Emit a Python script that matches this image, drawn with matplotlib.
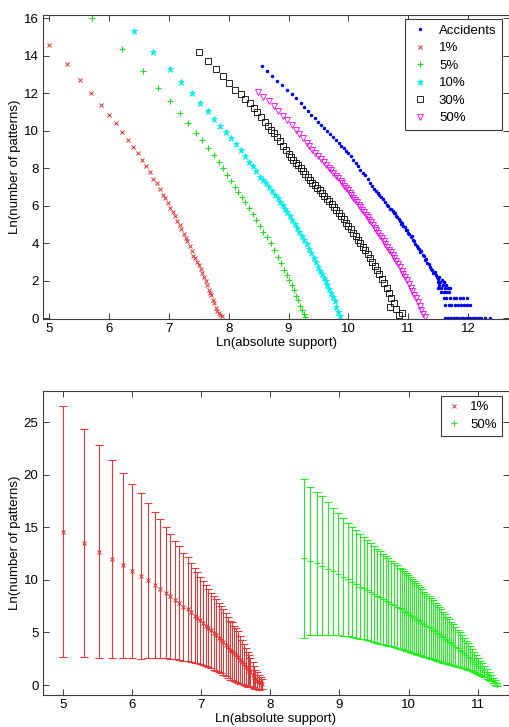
import matplotlib.pyplot as plt

plt.rcParams["font.family"] = ["Liberation Sans", "DejaVu Sans"]
plt.rcParams["font.size"] = 9.5

# ---- top panel: ln(number of patterns) vs ln(absolute support) ----
acc_x = [8.55, 8.64, 8.72, 8.80, 8.89, 8.97, 9.05, 9.13, 9.2, 9.26, 9.32, 9.38, 9.44, 9.5,
         9.55, 9.6, 9.65, 9.7, 9.75, 9.8, 9.84, 9.88, 9.92, 9.96, 10.0, 10.04, 10.08, 10.12,
         10.16, 10.2, 10.24, 10.28, 10.32, 10.36, 10.4, 10.43, 10.46, 10.49, 10.52, 10.55,
         10.58, 10.61, 10.64, 10.67, 10.7, 10.72, 10.74, 10.76, 10.78, 10.8, 10.82, 10.84,
         10.86, 10.88, 10.9, 10.92, 10.94, 10.96, 10.98, 11.0, 11.02, 11.04, 11.06, 11.08,
         11.1, 11.12, 11.14, 11.16, 11.18, 11.2, 11.22, 11.24, 11.26, 11.28, 11.3, 11.32,
         11.34, 11.36, 11.38, 11.4, 11.42, 11.44, 11.46, 11.48, 11.5, 11.52, 11.54, 11.56,
         11.58, 11.6,
         11.5, 11.6, 11.52, 11.58, 11.63, 11.5, 11.55, 11.62, 11.66, 11.7, 11.55, 11.6, 11.64,
         11.68, 11.6, 11.64, 11.7, 11.76, 11.8, 11.86, 11.92, 11.98, 11.62, 11.68, 11.72,
         11.78, 11.84, 11.88, 11.93, 11.98, 12.04, 11.62, 11.67, 11.72, 11.76, 11.8, 11.84,
         11.88, 11.92, 11.96, 12.0, 12.04, 12.08, 12.12, 12.17, 12.22, 12.28, 12.37]
acc_y = [13.47, 13.19, 12.92, 12.67, 12.43, 12.2, 11.98, 11.74, 11.5, 11.28, 11.06, 10.86,
         10.66, 10.46, 10.3, 10.14, 9.99, 9.84, 9.67, 9.5, 9.35, 9.21, 9.07, 8.93, 8.79,
         8.63, 8.45, 8.28, 8.1, 7.92, 7.77, 7.62, 7.45, 7.22, 7.03, 6.92, 6.8, 6.7, 6.6,
         6.48, 6.37, 6.2, 6.05, 5.98, 5.82, 5.85, 5.7, 5.62, 5.6, 5.45, 5.42, 5.28, 5.2,
         5.05, 5.1, 4.92, 4.85, 4.7, 4.72, 4.55, 4.5, 4.35, 4.4, 4.2, 4.12, 3.95, 3.88,
         3.75, 3.68, 3.52, 3.6, 3.35, 3.3, 3.1, 3.18, 2.95, 2.9, 2.75, 2.64, 2.6, 2.4, 2.48,
         2.3, 2.2, 2.08, 2.2, 1.95, 2.04, 1.79, 1.95,
         1.95, 1.95, 1.79, 1.79, 1.79, 1.61, 1.61, 1.61, 1.61, 1.61, 1.39, 1.39, 1.39,
         1.39, 1.1, 1.1, 1.1, 1.1, 1.1, 1.1, 1.1, 1.1, 0.69, 0.69, 0.69,
         0.69, 0.69, 0.69, 0.69, 0.69, 0.69, 0, 0, 0, 0, 0, 0,
         0, 0, 0, 0, 0, 0, 0, 0, 0, 0, 0]

p1_x = [5.0, 5.3, 5.52, 5.7, 5.86, 6.0, 6.12, 6.22, 6.32, 6.4, 6.48, 6.55, 6.62, 6.68,
        6.74, 6.8, 6.85, 6.9, 6.94, 6.98, 7.02, 7.07, 7.1, 7.14, 7.18, 7.21, 7.25, 7.28,
        7.31, 7.35, 7.38, 7.41, 7.44, 7.47, 7.5, 7.53, 7.56, 7.59, 7.62, 7.64, 7.67, 7.69,
        7.71, 7.74, 7.76, 7.78, 7.8, 7.83, 7.86, 7.88]
p1_y = [14.6, 13.55, 12.7, 12.0, 11.4, 10.85, 10.4, 9.95, 9.5, 9.15, 8.8, 8.45, 8.1, 7.8,
        7.45, 7.2, 6.9, 6.6, 6.4, 6.15, 5.9, 5.65, 5.45, 5.2, 4.95, 4.75, 4.5, 4.3, 4.1,
        3.85, 3.6, 3.3, 3.2, 3.0, 2.85, 2.65, 2.4, 2.2, 2.0, 1.75, 1.5, 1.35, 1.25, 1.0,
        0.8, 0.55, 0.4, 0.27, 0.2, 0.1]
p1_err = [11.9, 10.85, 10.1, 9.4, 8.8, 8.3, 7.9, 7.4, 6.95, 6.6, 6.25, 5.95, 5.6, 5.4,
          5.15, 4.95, 4.75, 4.55, 4.35, 4.15, 4.0, 3.85, 3.7, 3.6, 3.5, 3.4, 3.3, 3.2,
          3.1, 3.0, 2.9, 2.8, 2.75, 2.65, 2.55, 2.45, 2.3, 2.1, 1.95, 1.8, 1.65, 1.5,
          1.35, 1.2, 1.05, 0.9, 0.8, 0.7, 0.6, 0.5]

p5_x = [5.71, 6.22, 6.56, 6.82, 7.02, 7.19, 7.32, 7.45, 7.55, 7.65, 7.75, 7.83, 7.9, 7.97,
        8.04, 8.1, 8.16, 8.22, 8.28, 8.34, 8.4, 8.46, 8.52, 8.58, 8.64, 8.7, 8.76, 8.82,
        8.87, 8.92, 8.97, 9.01, 9.05, 9.09, 9.13, 9.16, 9.19, 9.22, 9.25, 9.28]
p5_y = [16.0, 14.35, 13.2, 12.3, 11.6, 10.95, 10.4, 9.9, 9.5, 9.1, 8.7, 8.35, 8.0, 7.62,
        7.3, 7.02, 6.75, 6.49, 6.2, 5.9, 5.55, 5.23, 4.92, 4.62, 4.35, 4.0, 3.62, 3.25,
        2.93, 2.6, 2.3, 2.02, 1.78, 1.5, 1.2, 0.95, 0.65, 0.45, 0.25, 0.09]

p10_x = [6.41, 6.74, 7.02, 7.21, 7.38, 7.52, 7.65, 7.76, 7.86, 7.96, 8.04, 8.12, 8.2, 8.27,
         8.34, 8.4, 8.46, 8.52, 8.57, 8.62, 8.67, 8.72, 8.77, 8.82, 8.86, 8.9, 8.94, 8.98,
         9.02, 9.06, 9.1, 9.14, 9.18, 9.22, 9.26, 9.3, 9.34, 9.38, 9.42, 9.46, 9.5, 9.53,
         9.56, 9.59, 9.62, 9.65, 9.68, 9.71, 9.74, 9.77, 9.8, 9.83, 9.86]
p10_y = [15.3, 14.2, 13.3, 12.6, 12.0, 11.5, 11.05, 10.65, 10.28, 9.92, 9.6, 9.28, 8.96,
         8.66, 8.36, 8.1, 7.83, 7.55, 7.38, 7.2, 7.0, 6.8, 6.6, 6.4, 6.22, 6.03, 5.85,
         5.65, 5.45, 5.25, 5.03, 4.82, 4.6, 4.38, 4.15, 3.95, 3.72, 3.47, 3.23, 2.98,
         2.72, 2.53, 2.35, 2.15, 1.97, 1.76, 1.56, 1.35, 1.13, 0.9, 0.62, 0.35, 0.1]

p30_x = [7.5, 7.66, 7.78, 7.9, 8.01, 8.11, 8.2, 8.28, 8.35, 8.42, 8.48, 8.54, 8.6, 8.65,
         8.7, 8.75, 8.8, 8.85, 8.9, 8.95, 9.0, 9.04, 9.08, 9.12, 9.16, 9.2, 9.24, 9.28,
         9.32, 9.36, 9.4, 9.44, 9.48, 9.52, 9.56, 9.6, 9.64, 9.68, 9.72, 9.76, 9.8, 9.84,
         9.88, 9.92, 9.96, 10.0, 10.04, 10.08, 10.12, 10.16, 10.2, 10.24, 10.28, 10.32,
         10.36, 10.4, 10.44, 10.48, 10.52, 10.56, 10.6, 10.64, 10.68, 10.7, 10.72, 10.76,
         10.8, 10.84, 10.89]
p30_y = [14.2, 13.7, 13.3, 12.9, 12.55, 12.2, 11.95, 11.7, 11.47, 11.24, 11.0, 10.72,
         10.45, 10.25, 10.06, 9.87, 9.65, 9.43, 9.2, 8.98, 8.77, 8.6, 8.44, 8.3, 8.15,
         8.0, 7.86, 7.71, 7.56, 7.4, 7.24, 7.1, 6.96, 6.82, 6.68, 6.53, 6.38, 6.23, 6.08,
         5.92, 5.76, 5.6, 5.44, 5.27, 5.1, 4.93, 4.75, 4.57, 4.39, 4.2, 4.01, 3.82, 3.62,
         3.42, 3.22, 3.01, 2.8, 2.58, 2.35, 2.12, 1.88, 1.63, 1.37, 0.62, 1.1, 0.82,
         0.52, 0.18, 0.27]

p50_x = [8.49, 8.58, 8.67, 8.75, 8.83, 8.91, 8.98, 9.05, 9.12, 9.18, 9.24, 9.3, 9.35, 9.4,
         9.45, 9.5, 9.55, 9.59, 9.63, 9.67, 9.71, 9.75, 9.79, 9.83, 9.87, 9.9, 9.93, 9.96,
         9.99, 10.02, 10.05, 10.08, 10.11, 10.14, 10.17, 10.2, 10.23, 10.26, 10.29, 10.32,
         10.35, 10.38, 10.41, 10.44, 10.47, 10.5, 10.53, 10.56, 10.59, 10.62, 10.65, 10.68,
         10.71, 10.74, 10.77, 10.8, 10.83, 10.86, 10.89, 10.92, 10.95, 10.98, 11.01, 11.04,
         11.07, 11.1, 11.13, 11.16, 11.19, 11.22, 11.25, 11.28]
p50_y = [12.05, 11.8, 11.57, 11.35, 11.08, 10.8, 10.56, 10.3, 10.04, 9.82, 9.6, 9.37, 9.19,
         9.0, 8.83, 8.65, 8.47, 8.33, 8.19, 8.04, 7.9, 7.75, 7.6, 7.46, 7.31, 7.19, 7.07,
         6.94, 6.82, 6.69, 6.57, 6.44, 6.31, 6.18, 6.05, 5.92, 5.79, 5.66, 5.52, 5.38, 5.25,
         5.11, 4.97, 4.83, 4.69, 4.55, 4.41, 4.26, 4.11, 3.96, 3.81, 3.66, 3.51, 3.36, 3.2,
         3.04, 2.88, 2.71, 2.54, 2.37, 2.2, 2.02, 1.83, 1.64, 1.45, 1.26, 1.06, 0.86, 0.66,
         0.45, 0.25, 0.05]
p50_err = [7.55, 7.0, 6.8, 6.6, 6.35, 6.05, 5.8, 5.6, 5.4, 5.25, 5.1, 4.95, 4.85, 4.75,
           4.65, 4.55, 4.45, 4.38, 4.3, 4.22, 4.15, 4.08, 4.0, 3.93, 3.86, 3.8, 3.74, 3.68,
           3.62, 3.56, 3.5, 3.44, 3.38, 3.31, 3.24, 3.17, 3.1, 3.03, 2.96, 2.89, 2.82, 2.74,
           2.66, 2.58, 2.5, 2.42, 2.33, 2.24, 2.15, 2.05, 1.95, 1.85, 1.75, 1.65, 1.55, 1.45,
           1.35, 1.25, 1.15, 1.05, 0.95, 0.86, 0.77, 0.68, 0.6, 0.52, 0.45, 0.38, 0.31, 0.25,
           0.2, 0.15]

axis_color = "#3c3c3c"


def matlab_box(ax):
    for side in ax.spines.values():
        side.set_color(axis_color)
        side.set_linewidth(0.8)
    ax.tick_params(direction="in", top=True, right=True, length=4, width=0.7,
                   color=axis_color, labelsize=9.5, pad=3)


def matlab_legend(ax, anchor, handlelength):
    leg = ax.legend(loc="upper right", bbox_to_anchor=anchor, borderaxespad=0,
                    numpoints=1, fontsize=9.5, fancybox=False, framealpha=1,
                    edgecolor=axis_color, handlelength=handlelength, labelspacing=0.4,
                    handletextpad=0.6, borderpad=0.4)
    leg.get_frame().set_linewidth(0.8)
    return leg


fig = plt.figure(figsize=(5.1, 7.27), dpi=100)

ax1 = fig.add_axes((0.0849, 0.5612, 0.9137, 0.4182))
ax1.plot(acc_x, acc_y, ".", color="#0000ff", ms=3, label="Accidents")
ax1.plot(p1_x, p1_y, "x", color="#e03030", ms=3, mew=0.7, label="1%")
ax1.plot(p5_x, p5_y, "+", color="#20dd20", ms=5, mew=0.8, label="5%")
ax1.plot(p10_x, p10_y, "*", color="#00eeee", ms=5, mew=0.6, label="10%")
ax1.plot(p30_x, p30_y, "s", color="black", mfc="none", ms=4.5, mew=0.6, label="30%")
ax1.plot(p50_x, p50_y, "v", color="#ee00ee", mfc="none", ms=4.5, mew=0.6, label="50%")
ax1.set_xlim(4.9, 12.69)
ax1.set_ylim(-0.04, 16.18)
ax1.set_xticks(range(5, 13))
ax1.set_yticks(range(0, 17, 2))
ax1.set_xlabel("Ln(absolute support)", fontsize=9.5, labelpad=1)
ax1.set_ylabel("Ln(number of patterns)", fontsize=9.5, labelpad=2)
matlab_box(ax1)
matlab_legend(ax1, (0.984, 0.986), 1.6)

# ---- bottom panel: averages with error bars ----
ax2 = fig.add_axes((0.0837, 0.0440, 0.9149, 0.4186))
ax2.errorbar(p1_x, p1_y, yerr=p1_err, fmt="none", ecolor="#e03a3a", elinewidth=0.8,
             capsize=3.2, capthick=0.8)
ax2.errorbar(p50_x, p50_y, yerr=p50_err, fmt="none", ecolor="#22ee22", elinewidth=0.8,
             capsize=3.2, capthick=0.8)
ax2.plot(p1_x, p1_y, "x", color="#e03030", ms=3, mew=0.7, label="1%")
ax2.plot(p50_x, p50_y, "+", color="#22ee22", ms=4, mew=0.8, label="50%")
ax2.set_xlim(4.7, 11.46)
ax2.set_ylim(-0.95, 28.0)
ax2.set_xticks(range(5, 12))
ax2.set_yticks(range(0, 26, 5))
ax2.set_xlabel("Ln(absolute support)", fontsize=9.5, labelpad=1)
ax2.set_ylabel("Ln(number of patterns)", fontsize=9.5, labelpad=2)
matlab_box(ax2)
matlab_legend(ax2, (0.984, 0.983), 1.2)

fig.savefig("out.png", dpi=100)
